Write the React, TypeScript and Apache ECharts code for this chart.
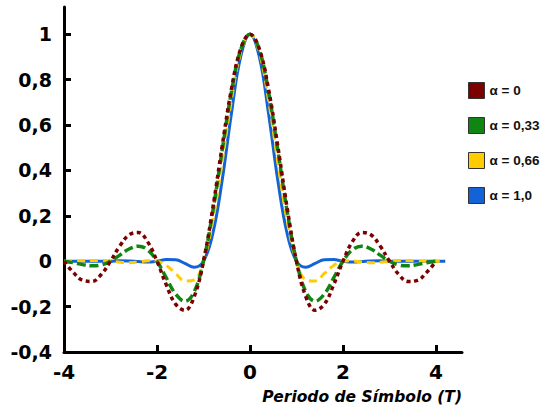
import React, { useEffect, useRef } from "react";
import * as echarts from "echarts";

const xs = [
  -4, -3.8, -3.6, -3.4, -3.2, -3, -2.8, -2.6, -2.4, -2.2, -2, -1.8, -1.6, -1.4, -1.2, -1, -0.8, -0.6, -0.4, -0.2,
  0, 0.2, 0.4, 0.6, 0.8, 1, 1.2, 1.4, 1.6, 1.8, 2, 2.2, 2.4, 2.6, 2.8, 3, 3.2, 3.4, 3.6, 3.8, 4, 4.2,
];

const alpha0 = [
  0, -0.0492, -0.0841, -0.089, -0.0585, 0, 0.0668, 0.1164, 0.1261, 0.085, 0, -0.1039, -0.1892, -0.2162, -0.1559, 0, 0.2339, 0.5046, 0.7568, 0.9355,
  1, 0.9355, 0.7568, 0.5046, 0.2339, 0, -0.1559, -0.2162, -0.1892, -0.1039, 0, 0.085, 0.1261, 0.1164, 0.0668, 0, -0.0585, -0.089, -0.0841, -0.0492, 0, null,
];

const alpha033 = [
  0, -0.0065, -0.015, -0.0205, -0.0166, 0, 0.0269, 0.054, 0.0663, 0.05, 0, -0.0735, -0.1443, -0.1761, -0.1343, 0, 0.219, 0.4863, 0.7446, 0.9318,
  1, 0.9318, 0.7446, 0.4863, 0.219, 0, -0.1343, -0.1761, -0.1443, -0.0735, 0, 0.05, 0.0663, 0.054, 0.0269, 0, -0.0166, -0.0205, -0.015, -0.0065, 0, null,
];

const alpha066 = [
  0, 0, 0.0015, 0.0033, 0.0033, 0, -0.0047, -0.0068, -0.0036, 0.0017, 0, -0.0186, -0.0538, -0.087, -0.082, 0, 0.1784, 0.4346, 0.7085, 0.9204,
  1, 0.9204, 0.7085, 0.4346, 0.1784, 0, -0.082, -0.087, -0.0538, -0.0186, 0, 0.0017, -0.0036, -0.0068, -0.0047, 0, 0.0033, 0.0033, 0.0015, 0, 0, 0,
];

const alpha1 = [
  0, 0, 0, 0, 0, 0, 0.0018, 0.0014, -0.0018, -0.0037, 0, 0.007, 0.0063, -0.0098, -0.0265, 0, 0.1213, 0.3544, 0.6496, 0.901,
  1, 0.901, 0.6496, 0.3544, 0.1213, 0, -0.0265, -0.0098, 0.0063, 0.007, 0, -0.0037, -0.0018, 0.0014, 0.0018, 0, 0, 0, 0, 0, 0, 0,
];

const seriesNames = ["α = 0", "α = 0,33", "α = 0,66", "α = 1,0"];
const yTicks = [-0.4, -0.2, 0, 0.2, 0.4, 0.6, 0.8, 1];
const xTicks = [-4, -2, 0, 2, 4];

const FONT = "DejaVu Sans";

function pairs(arr: (number | null)[]) {
  const out: [number, number][] = [];
  xs.forEach((x, i) => {
    const v = arr[i];
    if (v !== null && v !== undefined) out.push([x, v]);
  });
  return out;
}

export default function App() {
  const ref = useRef<HTMLDivElement>(null);
  useEffect(() => {
    if (!ref.current) return;
    const chart = echarts.init(ref.current, null, { renderer: "svg" });
    const axisLine = { onZero: false, lineStyle: { color: "#000", width: 3 } };
    chart.setOption({
      animation: false,
      backgroundColor: "#fff",
      grid: { left: 64, right: 83, top: 7, bottom: 55, containLabel: false },
      legend: {
        data: seriesNames,
        orient: "vertical",
        left: 463,
        top: 77,
        icon: "rect",
        itemWidth: 16,
        itemHeight: 16,
        itemGap: 18,
        itemStyle: { borderColor: "#333", borderWidth: 1 },
        textStyle: { fontFamily: "Liberation Sans", fontWeight: "bold", fontSize: 13.5, color: "#111", padding: [0, 0, 0, 0] },
      },
      xAxis: {
        type: "value",
        min: -4,
        max: 4.56,
        interval: 2,
        splitLine: { show: false },
        axisLine,
        axisTick: { show: true, inside: true, length: 7, lineStyle: { color: "#000", width: 3 }, customValues: xTicks },
        axisLabel: {
          customValues: xTicks,
          fontFamily: FONT,
          fontWeight: "bold",
          fontSize: 20,
          color: "#000",
          margin: 10,
          formatter: (v: number) => String(v),
        },
        name: "Periodo de Símbolo (T)",
        nameLocation: "end",
        nameGap: 0,
        nameTextStyle: {
          fontFamily: FONT,
          fontWeight: "bold",
          fontStyle: "italic",
          fontSize: 15.5,
          color: "#000",
          align: "right",
          verticalAlign: "top",
          padding: [37, 0, 0, 0],
        },
      },
      yAxis: {
        type: "value",
        min: -0.4,
        max: 1.12,
        interval: 0.2,
        splitLine: { show: false },
        axisLine,
        axisTick: { show: true, inside: true, length: 7, lineStyle: { color: "#000", width: 3 }, customValues: yTicks },
        axisLabel: {
          customValues: yTicks,
          fontFamily: FONT,
          fontWeight: "bold",
          fontSize: 19,
          color: "#000",
          margin: 12,
          formatter: (v: number) => String(Math.round(v * 10) / 10).replace(".", ","),
        },
      },
      series: [
        {
          name: "α = 1,0",
          type: "line",
          data: pairs(alpha1),
          smooth: 0.4,
          showSymbol: false,
          color: "#1262d8",
          lineStyle: { width: 3, color: "#1262d8" },
        },
        {
          name: "α = 0,66",
          type: "line",
          data: pairs(alpha066),
          smooth: 0.4,
          showSymbol: false,
          color: "#ffcc00",
          lineStyle: { width: 3, color: "#ffcc00", type: [8, 5] },
        },
        {
          name: "α = 0,33",
          type: "line",
          data: pairs(alpha033),
          smooth: 0.4,
          showSymbol: false,
          color: "#118511",
          lineStyle: { width: 3.5, color: "#118511", type: [9, 4] },
        },
        {
          name: "α = 0",
          type: "line",
          data: pairs(alpha0),
          smooth: 0.4,
          showSymbol: false,
          color: "#7d0000",
          lineStyle: { width: 3.5, color: "#7d0000", type: [4, 3.5] },
        },
      ],
    });
    return () => chart.dispose();
  }, []);
  return <div ref={ref} style={{ width: 545, height: 407, position: "absolute", left: 0, top: 0 }} />;
}
